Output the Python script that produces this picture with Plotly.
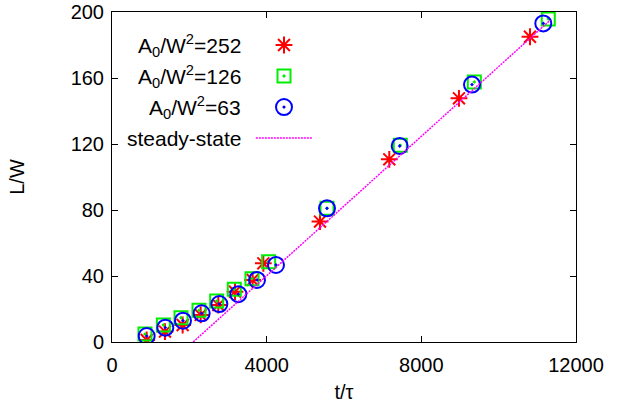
import plotly.graph_objects as go

# data
t_252 = [897, 1370, 1827, 2293, 2750, 3181, 3637, 3914, 5379, 7171, 8973, 10810]
L_252 = [1.2, 6.3, 10.3, 16.4, 22.4, 30.5, 37.6, 47.7, 73, 110.7, 147.7, 185]

t_126 = [853, 1328, 1785, 2250, 2707, 3163, 3620, 4051, 5560, 7456, 9370, 11283]
L_126 = [4.8, 10.3, 14.7, 19.2, 24.8, 31.9, 38.4, 48.7, 81, 119.2, 157.6, 195.8]

t_63 = [897, 1379, 1836, 2319, 2776, 3267, 3750, 4241, 5560, 7440, 9310, 11154]
L_63 = [3.6, 8.7, 12.9, 17.4, 23.0, 29.0, 37.6, 46.7, 81, 118.8, 156, 193.1]

t_ss = [2100, 11330]
L_ss = [0, 195]

x_ticks = [0, 4000, 8000, 12000]
y_ticks = [0, 40, 80, 120, 160, 200]

legend_labels = ["A<sub>0</sub>/W<sup>2</sup>=252", "A<sub>0</sub>/W<sup>2</sup>=126",
                 "A<sub>0</sub>/W<sup>2</sup>=63", "steady-state"]

FONT = "Liberation Sans, Arial, sans-serif"
FS = 20
RED, GREEN, BLUE, MAG = "#ff0000", "#00ee00", "#0000ff", "#ff00ff"

star = dict(symbol="asterisk-open", size=14, color=RED, line=dict(color=RED, width=2))
square = dict(symbol="square-open-dot", size=13, color=GREEN, line=dict(color=GREEN, width=2))
circle = dict(symbol="circle-open-dot", size=16, color=BLUE, line=dict(color=BLUE, width=2))
line_style = dict(color=MAG, width=1.5, dash="2px,1px")

fig = go.Figure()
fig.add_trace(go.Scatter(x=t_252, y=L_252, mode="markers", marker=star, showlegend=False))
fig.add_trace(go.Scatter(x=t_126, y=L_126, mode="markers", marker=square, showlegend=False))
fig.add_trace(go.Scatter(x=t_63, y=L_63, mode="markers", marker=circle, showlegend=False))
fig.add_trace(go.Scatter(x=t_ss, y=L_ss, mode="lines", line=line_style, showlegend=False))

# manual gnuplot-style legend (text left, sample right) on overlay axes [0,1]
rows = [0.90, 0.806, 0.712, 0.618]
sym_x = 0.3707
for m, yy in zip([star, square, circle], rows[:3]):
    fig.add_trace(go.Scatter(x=[sym_x], y=[yy], mode="markers", marker=m,
                             xaxis="x2", yaxis="y2", showlegend=False, hoverinfo="skip"))
fig.add_trace(go.Scatter(x=[0.310, 0.431], y=[rows[3], rows[3]], mode="lines", line=line_style,
                         xaxis="x2", yaxis="y2", showlegend=False, hoverinfo="skip"))
for lab, yy in zip(legend_labels, rows):
    fig.add_annotation(x=0.2823, y=yy, xref="x2", yref="y2", text=lab, showarrow=False,
                       xanchor="right", yanchor="middle", font=dict(family=FONT, size=21, color="black"))

axis_common = dict(showgrid=False, zeroline=False, showline=True, linecolor="black", linewidth=1,
                   mirror="ticks", ticks="inside", ticklen=6, tickwidth=1, tickcolor="black",
                   automargin=False,
                   tickfont=dict(family=FONT, size=FS, color="black"))
fig.update_layout(
    width=644, height=409,
    margin=dict(l=112, r=68, t=12, b=67, autoexpand=False),
    paper_bgcolor="white", plot_bgcolor="white",
    xaxis=dict(range=[0, 12000], tickvals=x_ticks, ticktext=[str(v) for v in x_ticks],
               ticklabelstandoff=5,
               title=dict(text="t/τ", font=dict(family=FONT, size=FS, color="black"), standoff=9),
               **axis_common),
    yaxis=dict(range=[0, 200], tickvals=y_ticks, ticktext=[str(v) for v in y_ticks],
               ticklabelstandoff=3,
               title=dict(text="L/W", font=dict(family=FONT, size=FS, color="black"), standoff=40),
               **axis_common),
    xaxis2=dict(overlaying="x", range=[0, 1], visible=False),
    yaxis2=dict(overlaying="y", range=[0, 1], visible=False),
)
fig.write_html("out.html", config={"displayModeBar": False},
               post_script="document.body.style.margin='0';")
